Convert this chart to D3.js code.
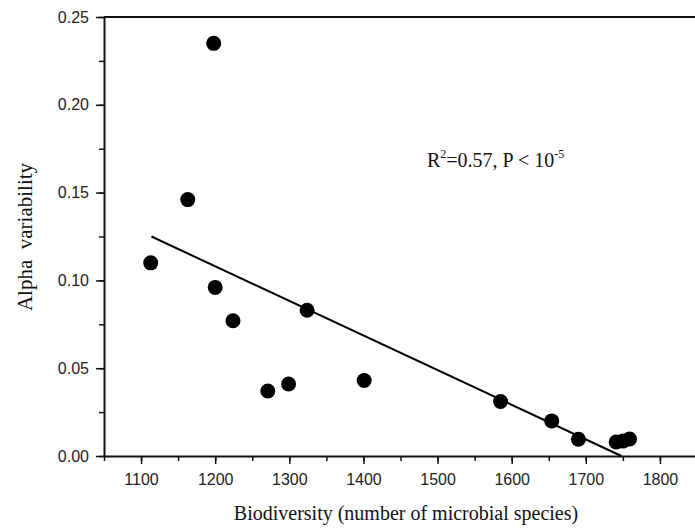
<!DOCTYPE html>
<html>
<head>
<meta charset="utf-8">
<script src="https://cdn.jsdelivr.net/npm/d3@7"></script>
<style>
  body { margin: 0; background: #fff; }
  .axis text { font-family: "Liberation Sans", Arial, sans-serif; font-size: 16px; fill: #222; }
  .axis path, .axis line { stroke: #111; }
  .title { font-family: "Liberation Serif", "Times New Roman", serif; font-size: 20px; fill: #111; }
</style>
</head>
<body>
<div id="chart"></div>
<script>
// data
var biodiversity = [1113, 1163, 1198, 1200, 1224, 1324, 1271, 1299, 1401, 1585, 1654, 1690, 1741, 1750, 1759];
var alpha = [0.110, 0.146, 0.235, 0.096, 0.077, 0.083, 0.037, 0.041, 0.043, 0.031, 0.020, 0.0095, 0.008, 0.0085, 0.0097];
// ends of the fitted line
var fitX = [1114, 1748];
var fitY = [0.125, 0];
var xTicks = [1100, 1200, 1300, 1400, 1500, 1600, 1700, 1800];
var yTicks = [0, 0.05, 0.10, 0.15, 0.20, 0.25];

var margin = { top: 17, right: -2, bottom: 73, left: 104 };
var W = 695, H = 529;
var width = W - margin.left - margin.right;
var height = H - margin.top - margin.bottom;

var x = d3.scaleLinear().domain([1050, 1850]).range([0, width]);
var y = d3.scaleLinear().domain([0, 0.25]).range([height, 0]);

var svg = d3.select("#chart").append("svg").attr("width", W).attr("height", H);
var g = svg.append("g").attr("transform", "translate(" + margin.left + "," + margin.top + ")");

// minor ticks first
g.append("g").attr("class", "axis minor")
  .attr("transform", "translate(0," + height + ")")
  .call(d3.axisBottom(x).tickValues(d3.range(1050, 1851, 50)).tickSize(5).tickFormat(""))
  .call(function (s) { s.select(".domain").remove(); s.selectAll("line").attr("stroke-width", 1.5); });
g.append("g").attr("class", "axis minor")
  .call(d3.axisLeft(y).tickValues(d3.range(0, 0.251, 0.025)).tickSize(5).tickFormat(""))
  .call(function (s) { s.select(".domain").remove(); s.selectAll("line").attr("stroke-width", 1.5); });

// major axes
var xAxis = g.append("g").attr("class", "axis")
  .attr("transform", "translate(0," + height + ")")
  .call(d3.axisBottom(x).tickValues(xTicks).tickSize(8).tickSizeOuter(0).tickPadding(10).tickFormat(d3.format("d")));
var yAxis = g.append("g").attr("class", "axis")
  .call(d3.axisLeft(y).tickValues(yTicks).tickSize(8).tickSizeOuter(0).tickPadding(7).tickFormat(d3.format(".2f")));
xAxis.select(".domain").attr("stroke-width", 2);
yAxis.select(".domain").attr("stroke-width", 2);
xAxis.selectAll(".tick line").attr("stroke-width", 1.5);
yAxis.selectAll(".tick line").attr("stroke-width", 1.5);

// top frame line
g.append("line").attr("x1", 0).attr("x2", width).attr("y1", 0).attr("y2", 0)
  .attr("stroke", "#111").attr("stroke-width", 2);

// fitted line
g.append("path")
  .datum(d3.zip(fitX, fitY))
  .attr("fill", "none").attr("stroke", "#000").attr("stroke-width", 2)
  .attr("d", d3.line().x(function (d) { return x(d[0]); }).y(function (d) { return y(d[1]); }));

// dots
g.selectAll(".dot").data(d3.zip(biodiversity, alpha)).enter().append("circle")
  .attr("class", "dot").attr("r", 7.5)
  .attr("cx", function (d) { return x(d[0]); })
  .attr("cy", function (d) { return y(d[1]); })
  .attr("fill", "#000");

// axis titles
svg.append("text").attr("class", "title")
  .attr("x", 406).attr("y", 520)
  .attr("text-anchor", "middle")
  .text("Biodiversity (number of microbial species)");
svg.append("text").attr("class", "title")
  .attr("transform", "translate(32," + 237 + ") rotate(-90)")
  .attr("text-anchor", "middle")
  .attr("xml:space", "preserve")
  .style("font-size", "21px")
  .text("Alpha  variability");

// annotation
var note = svg.append("text").attr("class", "title")
  .attr("x", 427).attr("y", 167).style("font-size", "20px");
note.append("tspan").text("R");
note.append("tspan").attr("dy", -9).style("font-size", "12px").text("2");
note.append("tspan").attr("dy", 9).text("=0.57, P < 10");
note.append("tspan").attr("dy", -9).style("font-size", "12px").text("-5");
</script>
</body>
</html>
